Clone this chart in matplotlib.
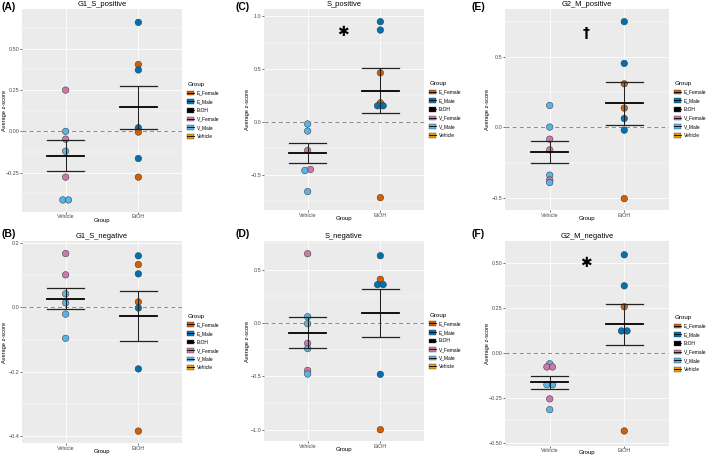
import matplotlib
matplotlib.use('Agg')
import matplotlib.pyplot as plt
import numpy as np
from matplotlib.patches import Patch
from matplotlib.lines import Line2D

plt.rcParams['font.family'] = ['Liberation Sans', 'DejaVu Sans']
plt.rcParams['axes.unicode_minus'] = True

# ---------------- data ----------------
groups = ['Vehicle', 'EtOH']
legend_labels = ['E_Female', 'E_Male', 'EtOH', 'V_Female', 'V_Male', 'Vehicle']
legend_colors = ['#D55E00', '#0072B2', '#000000', '#CC79A7', '#56B4E9', '#E69F00']

# (A) G1_S_positive
A_title = 'G1_S_positive'
A_veh = [0.25, 0.00, -0.047, -0.12, -0.277, -0.415, -0.415]
A_veh_grp = ['V_Female', 'V_Male', 'V_Female', 'V_Male', 'V_Female', 'V_Male', 'V_Male']
A_etoh = [0.66, 0.405, 0.372, 0.022, -0.004, -0.164, -0.277]
A_etoh_grp = ['E_Male', 'E_Female', 'E_Male', 'E_Male', 'E_Female', 'E_Male', 'E_Female']
A_mean = [-0.146, 0.145]
A_sem = [0.091, 0.128]
A_ticks = [-0.25, 0.00, 0.25, 0.50]
A_ticklabels = ['\u22120.25', '0.00', '0.25', '0.50']
A_ylim = (-0.488, 0.741)

# (B) G1_S_negative
B_title = 'G1_S_negative'
B_veh = [0.167, 0.101, 0.042, 0.014, -0.021, -0.096]
B_veh_grp = ['V_Female', 'V_Female', 'V_Male', 'V_Male', 'V_Male', 'V_Male']
B_etoh = [0.160, 0.133, 0.104, 0.017, -0.002, -0.191, -0.384]
B_etoh_grp = ['E_Male', 'E_Female', 'E_Male', 'E_Female', 'E_Male', 'E_Male', 'E_Female']
B_mean = [0.0265, -0.0275]
B_sem = [0.0325, 0.0775]
B_ticks = [-0.4, -0.2, 0.0, 0.2]
B_ticklabels = ['\u22120.4', '\u22120.2', '0.0', '0.2']
B_ylim = (-0.421, 0.206)

# (C) S_positive
C_title = 'S_positive'
C_veh = [-0.02, -0.087, -0.27, -0.45, -0.46, -0.66]
C_veh_grp = ['V_Male', 'V_Male', 'V_Female', 'V_Female', 'V_Male', 'V_Male']
C_etoh = [0.948, 0.869, 0.464, 0.18, 0.152, 0.152, -0.717]
C_etoh_grp = ['E_Male', 'E_Male', 'E_Female', 'E_Female', 'E_Male', 'E_Male', 'E_Female']
C_mean = [-0.2925, 0.294]
C_sem = [0.0925, 0.211]
C_ticks = [-0.5, 0.0, 0.5, 1.0]
C_ticklabels = ['\u22120.5', '0.0', '0.5', '1.0']
C_ylim = (-0.834, 1.068)

# (D) S_negative
D_title = 'S_negative'
D_veh = [0.65, 0.059, -0.006, -0.19, -0.24, -0.444, -0.478]
D_veh_grp = ['V_Female', 'V_Male', 'V_Male', 'V_Female', 'V_Male', 'V_Female', 'V_Male']
D_etoh = [0.631, 0.41, 0.36, 0.36, -0.481, -1.0]
D_etoh_grp = ['E_Male', 'E_Female', 'E_Male', 'E_Male', 'E_Male', 'E_Female']
D_mean = [-0.093, 0.094]
D_sem = [0.145, 0.225]
D_ticks = [-1.0, -0.5, 0.0, 0.5]
D_ticklabels = ['\u22121.0', '\u22120.5', '0.0', '0.5']
D_ylim = (-1.106, 0.769)

# (E) G2_M_positive
E_title = 'G2_M_positive'
E_veh = [0.157, 0.003, -0.083, -0.159, -0.339, -0.373, -0.392]
E_veh_grp = ['V_Male', 'V_Male', 'V_Female', 'V_Female', 'V_Male', 'V_Female', 'V_Male']
E_etoh = [0.753, 0.456, 0.311, 0.138, 0.064, -0.019, -0.506]
E_etoh_grp = ['E_Male', 'E_Male', 'E_Female', 'E_Female', 'E_Male', 'E_Male', 'E_Female']
E_mean = [-0.1735, 0.171]
E_sem = [0.0785, 0.150]
E_ticks = [-0.5, 0.0, 0.5]
E_ticklabels = ['\u22120.5', '0.0', '0.5']
E_ylim = (-0.587, 0.843)

# (F) G2_M_negative
F_title = 'G2_M_negative'
F_veh = [-0.06, -0.078, -0.078, -0.177, -0.177, -0.256, -0.316]
F_veh_grp = ['V_Male', 'V_Female', 'V_Female', 'V_Male', 'V_Male', 'V_Female', 'V_Male']
F_etoh = [0.548, 0.375, 0.258, 0.123, 0.123, -0.435]
F_etoh_grp = ['E_Male', 'E_Male', 'E_Female', 'E_Male', 'E_Male', 'E_Female']
F_mean = [-0.163, 0.160]
F_sem = [0.037, 0.116]
F_ticks = [-0.50, -0.25, 0.00, 0.25, 0.50]
F_ticklabels = ['\u22120.50', '\u22120.25', '0.00', '0.25', '0.50']
F_ylim = (-0.519, 0.625)

# significance marks (symbol, x, y)
C_sig = ('\u2731', 1.48, 0.85)
E_sig = ('\u2020', 1.49, 0.67)
F_sig = ('\u2731', 1.49, 0.50)

# ---------------- layout ----------------
W, H, DPI = 709, 458, 100
fig = plt.figure(figsize=(W / DPI, H / DPI), dpi=DPI)

color_of = dict(zip(legend_labels, legend_colors))

panels = [
    ('(A)', A_title, A_veh, A_veh_grp, A_etoh, A_etoh_grp, A_mean, A_sem, A_ticks, A_ticklabels, A_ylim, None, (22, 9, 182, 212)),
    ('(C)', C_title, C_veh, C_veh_grp, C_etoh, C_etoh_grp, C_mean, C_sem, C_ticks, C_ticklabels, C_ylim, C_sig, (264, 9, 424, 210)),
    ('(E)', E_title, E_veh, E_veh_grp, E_etoh, E_etoh_grp, E_mean, E_sem, E_ticks, E_ticklabels, E_ylim, E_sig, (505, 9, 669, 210)),
    ('(B)', B_title, B_veh, B_veh_grp, B_etoh, B_etoh_grp, B_mean, B_sem, B_ticks, B_ticklabels, B_ylim, None, (22, 241, 182, 443)),
    ('(D)', D_title, D_veh, D_veh_grp, D_etoh, D_etoh_grp, D_mean, D_sem, D_ticks, D_ticklabels, D_ylim, None, (264, 241, 424, 441)),
    ('(F)', F_title, F_veh, F_veh_grp, F_etoh, F_etoh_grp, F_mean, F_sem, F_ticks, F_ticklabels, F_ylim, F_sig, (505, 241, 669, 446)),
]
label_pos = {'(A)': (2, 2), '(C)': (236, 2), '(E)': (472, 2),
             '(B)': (2, 229), '(D)': (236, 229), '(F)': (472, 229)}

BIN_PX = 2.6
SPACING_PX = 5.6


def swarm_x(ax, x0, vals):
    vals = np.asarray(vals, float)
    pts = ax.transData.transform(np.column_stack([np.full(len(vals), float(x0)), vals]))
    ys = pts[:, 1]
    order = np.argsort(ys, kind='stable')
    bins, cur = [], [order[0]]
    for i in order[1:]:
        if ys[i] - ys[cur[0]] < BIN_PX:
            cur.append(i)
        else:
            bins.append(cur)
            cur = [i]
    bins.append(cur)
    offs = np.zeros(len(vals))
    for b in bins:
        n = len(b)
        for k, i in enumerate(b):
            offs[i] = (k - (n - 1) / 2) * SPACING_PX
    pxx = ax.transData.transform([[1, 0]])[0, 0] - ax.transData.transform([[0, 0]])[0, 0]
    return x0 + offs / pxx


for (lab, title, veh, veh_g, eto, eto_g, means, sems, ticks, ticklabels, ylim, sig, box) in panels:
    l, t, r, b = box
    wpx, hpx = r - l, b - t
    ax = fig.add_axes([l / W, 1 - b / H, wpx / W, hpx / H])
    ax.set_facecolor('#EBEBEB')
    ax.set_xlim(0.4, 2.6)
    ax.set_ylim(*ylim)
    for s in ax.spines.values():
        s.set_visible(False)
    ax.set_xticks([1, 2])
    ax.set_xticklabels(groups)
    ax.set_yticks(ticks)
    ax.set_yticklabels(ticklabels)
    step = ticks[1] - ticks[0]
    minor = np.arange(ticks[0] - step / 2, ylim[1], step)
    minor = minor[(minor > ylim[0]) & (minor < ylim[1])]
    ax.set_yticks(minor, minor=True)
    ax.tick_params(which='major', length=1.3, width=0.5, color='#333333',
                   labelsize=3.9, labelcolor='#4D4D4D', pad=0.5)
    ax.tick_params(which='minor', length=0)
    ax.grid(True, which='major', color='white', lw=0.6, zorder=0)
    ax.grid(True, which='minor', axis='y', color='white', lw=0.3, zorder=0)
    ax.set_axisbelow(True)

    ax.axhline(0, color='#7A7A7A', lw=0.6, ls=(0, (5, 3.5)), zorder=1)

    for xi, vals, grp in ((1, veh, veh_g), (2, eto, eto_g)):
        xs = swarm_x(ax, xi, vals)
        ax.scatter(xs, vals, s=22, c=[color_of[g] for g in grp],
                   edgecolors='#333333', linewidths=0.35, zorder=3)

    hw = 0.25
    for xi, m, se in zip((1, 2), means, sems):
        ax.plot([xi, xi], [m - se, m + se], color='#222222', lw=0.75, zorder=4)
        ax.plot([xi - hw, xi + hw], [m + se, m + se], color='#222222', lw=0.9, zorder=4)
        ax.plot([xi - hw, xi + hw], [m - se, m - se], color='#222222', lw=0.9, zorder=4)
        ax.plot([xi - hw, xi + hw], [m, m], color='black', lw=1.3, zorder=5)

    if sig is not None:
        sym, sx, sy = sig
        if sym == '\u2020':
            ax.text(sx, sy, sym, fontsize=10, fontweight='bold', ha='center', va='center',
                    family=['DejaVu Sans'], zorder=6)
        else:
            ax.text(sx, sy, sym, fontsize=10, ha='center', va='center',
                    family=['DejaVu Sans'], zorder=6)

    ax.set_title(title, fontsize=5.4, pad=2)
    ax.set_xlabel('Group', fontsize=4.3)
    yoff = min(6.3, H - 1 - b - 6.6)
    ax.xaxis.set_label_coords(0.5, -yoff / hpx)
    ax.set_ylabel('Average z-score', fontsize=4.1)
    ax.yaxis.set_label_coords(-14.5 / wpx, 0.5)

    handles = [(Patch(facecolor=c, edgecolor='#444444', linewidth=0.3),
                Line2D([0], [0], color='black', lw=0.6)) for c in legend_colors]
    ax.legend(handles, legend_labels, title='Group', loc='center left',
              bbox_to_anchor=(1.0, 0.5), frameon=False, fontsize=3.5,
              title_fontsize=4.5, handlelength=1.3, handleheight=1.1,
              labelspacing=0.75, handletextpad=0.6, borderaxespad=0.7,
              alignment='left')

    px, py = label_pos[lab]
    fig.text(px / W, 1 - py / H, lab, fontsize=7.5, fontweight='bold', ha='left', va='top')

fig.savefig('out.png', dpi=DPI)
